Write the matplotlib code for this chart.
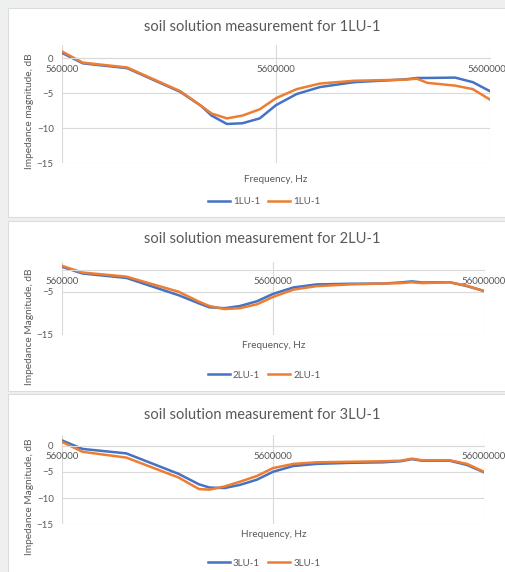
import matplotlib.pyplot as plt
from matplotlib.patches import Rectangle

# frequency points, Hz
freq = [560000, 700000, 1130000, 2000000, 2500000, 2800000, 3300000, 3900000,
        4700000, 5600000, 7000000, 9000000, 13000000, 18500000, 22500000,
        25500000, 28500000, 38500000, 46500000, 56000000]

lu1_blue = [0.8, -0.7, -1.4, -4.8, -6.8, -8.2, -9.4, -9.3, -8.6, -6.7,
            -5.1, -4.1, -3.4, -3.15, -3.0, -2.8, -2.8, -2.75, -3.4, -4.7]
lu1_orange = [1.0, -0.6, -1.3, -4.7, -6.8, -7.9, -8.6, -8.2, -7.3, -5.7,
              -4.4, -3.6, -3.2, -3.1, -3.05, -2.9, -3.5, -3.9, -4.4, -5.9]
lu2_blue = [0.77, -0.77, -1.8, -5.8, -7.7, -8.6, -8.8, -8.3, -7.2, -5.5,
            -4.0, -3.3, -3.15, -3.1, -2.85, -2.6, -2.85, -2.8, -3.7, -4.8]
lu2_orange = [1.0, -0.55, -1.5, -5.0, -7.3, -8.3, -9.0, -8.8, -7.9, -6.2,
              -4.5, -3.7, -3.3, -3.1, -3.0, -2.8, -3.0, -2.8, -3.6, -4.85]
lu3_blue = [0.97, -0.65, -1.5, -5.4, -7.4, -8.0, -8.1, -7.5, -6.5, -5.0,
            -3.9, -3.5, -3.3, -3.2, -3.0, -2.6, -2.9, -2.9, -3.7, -5.1]
lu3_orange = [0.7, -1.2, -2.3, -6.1, -8.3, -8.4, -7.8, -6.9, -5.8, -4.3,
              -3.5, -3.2, -3.1, -3.0, -2.9, -2.5, -2.8, -2.8, -3.5, -5.0]

titles = ["soil solution measurement for 1LU-1",
          "soil solution measurement for 2LU-1",
          "soil solution measurement for 3LU-1"]
xlabels = ["Frequency, Hz", "Frequency, Hz", "Hrequency, Hz"]
ylabels = ["Impedance magnitude, dB", "Impedance Magnitude, dB",
           "Impedance Magnitude, dB"]
names = ["1LU-1", "2LU-1", "3LU-1"]
xticks = [560000, 5600000, 56000000]
xticklabels = ["560000", "5600000", "56000000"]
yticks_list = [[-15, -10, -5, 0], [-15, -5], [-15, -10, -5, 0]]

plt.rcParams['font.family'] = ['Lato', 'DejaVu Sans']
W, H = 506, 572
txt = '#595959'
grid = '#d9d9d9'
blue = '#4472C4'
orange = '#ED7D31'

fig = plt.figure(figsize=(W / 100, H / 100), dpi=100)
fig.patch.set_facecolor('#eef0ef')

def fx(x):
    return x / W

def fy(y):
    return 1 - y / H

# white chart panels (pixel top, bottom)
panels = [(8, 216.7), (220.7, 391.3), (394, 580)]
for top, bot in panels:
    fig.patches.append(Rectangle((fx(8.3), fy(bot)), fx(510) - fx(8.3), fy(top) - fy(bot),
                                 transform=fig.transFigure, facecolor='white',
                                 edgecolor='#dcdcdc', lw=0.8, zorder=-5))

# axes boxes in pixels: left, right, top, bottom
boxes = [(62, 490, 44.5, 163), (62, 484, 261.5, 335), (62, 484, 435, 524.3)]
title_y = [27, 239, 415]
xlabel_y = [179, 345.7, 534.3]
xlabel_x = [276, 273.5, 273.7]
ylabel_y = [111, 327, 497]
legend_y = [202, 375, 563]
series = [(lu1_blue, lu1_orange), (lu2_blue, lu2_orange), (lu3_blue, lu3_orange)]

for i in range(3):
    l, r, t, b = boxes[i]
    ax = fig.add_axes([fx(l), fy(b), fx(r) - fx(l), fy(t) - fy(b)])
    ax.set_facecolor('none')
    sb, so = series[i]
    hb, = ax.plot(freq, sb, color=blue, lw=1.8, label=names[i])
    ho, = ax.plot(freq, so, color=orange, lw=1.8, label=names[i])
    ax.set_xscale('log')
    ax.set_xlim(560000, 56000000)
    ax.set_ylim(-15, 2)
    ax.set_xticks(xticks)
    ax.set_xticklabels(xticklabels)
    ax.xaxis.set_minor_locator(plt.NullLocator())
    ax.set_yticks(yticks_list[i])
    ax.grid(True, color=grid, lw=0.8)
    ax.set_axisbelow(True)
    for s in ['top', 'right', 'left']:
        ax.spines[s].set_visible(False)
    ax.spines['bottom'].set_position(('data', 0))
    ax.spines['bottom'].set_color(grid)
    ax.spines['bottom'].set_linewidth(0.8)
    ax.tick_params(axis='both', length=0, labelsize=7, colors=txt)
    ax.tick_params(axis='x', pad=5)
    ax.tick_params(axis='y', pad=6)
    fig.text(fx(262), fy(title_y[i]), titles[i], ha='center', va='center',
             fontsize=10.5, color=txt)
    fig.text(fx(xlabel_x[i]), fy(xlabel_y[i]), xlabels[i], ha='center', va='center',
             fontsize=7.2, color=txt)
    fig.text(fx(30), fy(ylabel_y[i]), ylabels[i], ha='center', va='center',
             rotation=90, fontsize=7.3, color=txt)
    fig.legend(handles=[hb, ho], loc='center', bbox_to_anchor=(fx(264), fy(legend_y[i])),
               ncol=2, frameon=False, fontsize=7, labelcolor=txt,
               handlelength=2.3, handletextpad=0.3, columnspacing=0.8)

fig.savefig('out.png', dpi=100, facecolor=fig.get_facecolor())
